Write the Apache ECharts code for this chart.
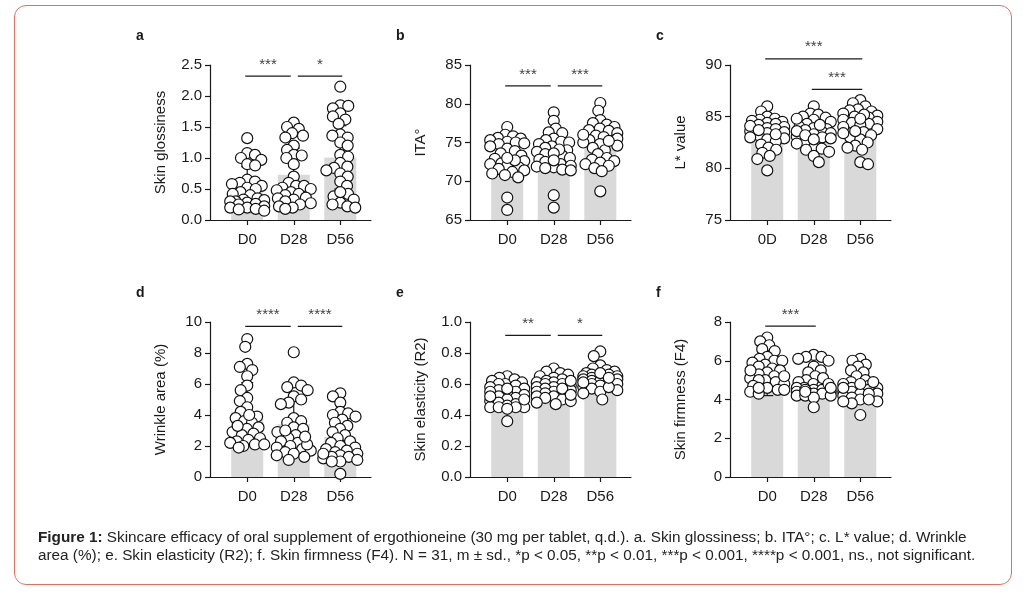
<!DOCTYPE html>
<html lang="en">
<head>
    <meta charset="UTF-8">
    <title>Figure 1</title>
    <style>
        body{ margin:0; background:#fff; }
        .wrap{ position:relative; width:1026px; height:595px; }
        .container{ width:1026px; height:595px; }
        .frame{
            position:absolute; left:14px; top:5px; width:996px; height:578px;
            border:1.5px solid #e2705f; border-radius:12px; pointer-events:none;
        }
    </style>
    <script src="https://cdn.jsdelivr.net/npm/echarts@6/dist/echarts.min.js"></script>
</head>
<body>
    <div class="wrap">
        <div class="container"></div>
        <div class="frame"></div>
    </div>
    <script>
        // categories
        var categories = ['D0', 'D28', 'D56'];
        var categoriesC = ['0D', 'D28', 'D56'];

        // a. skin glossiness
        var glossD0 = [1.32,1.08,1.05,1.0,0.97,0.9,0.88,0.65,0.62,0.6,0.58,0.55,0.52,0.5,0.45,0.42,0.4,0.35,0.33,0.32,0.3,0.3,0.28,0.26,0.25,0.22,0.2,0.2,0.18,0.17,0.15];
        var glossD28 = [1.57,1.5,1.47,1.4,1.36,1.33,1.2,1.13,1.05,1.04,1.0,0.9,0.7,0.6,0.55,0.55,0.52,0.5,0.48,0.45,0.42,0.4,0.36,0.35,0.33,0.3,0.27,0.25,0.22,0.2,0.18];
        var glossD56 = [2.15,1.85,1.84,1.8,1.72,1.67,1.62,1.55,1.38,1.36,1.33,1.25,1.2,1.05,1.02,0.92,0.86,0.84,0.8,0.75,0.7,0.62,0.55,0.42,0.38,0.33,0.28,0.25,0.22,0.2,0.45];
        var glossMean = [0.54, 0.73, 1.01];
        var glossSd = [0.32, 0.43, 0.51];
        var glossSig = [[0, 1, 2.32, '***'], [1, 2, 2.32, '*']];

        // b. ITA°
        var itaD0 = [77.0,76.0,75.8,75.6,75.5,75.3,75.1,75.0,74.9,74.8,74.5,74.2,73.9,73.6,73.3,72.9,72.6,72.3,72.2,72.0,71.8,71.6,71.4,71.2,71.0,70.8,70.5,72.7,73.0,67.9,66.3];
        var itaD28 = [78.9,77.8,76.8,76.3,76.2,75.5,75.3,75.1,75.0,74.8,74.5,74.3,74.0,73.8,73.5,73.3,73.0,72.8,72.5,72.2,72.0,71.9,71.8,71.7,71.5,71.4,68.2,66.6,74.1,73.6,72.7];
        var itaD56 = [80.1,79.1,77.9,77.5,77.3,77.0,76.8,76.6,76.5,76.2,75.9,75.7,75.5,75.3,75.0,74.8,74.6,74.3,74.0,73.5,73.0,72.8,72.6,72.4,72.2,72.0,71.7,71.3,68.7,76.0,75.2];
        var itaMean = [73.2, 73.8, 75.0];
        var itaSd = [2.4, 2.5, 2.3];
        var itaSig = [[0, 1, 82.3, '***'], [1, 2, 82.3, '***']];

        // c. L* value
        var lvalD0 = [86.0,85.5,85.0,84.8,84.7,84.6,84.5,84.4,84.3,84.2,84.0,83.9,83.8,83.6,83.5,83.4,83.2,83.0,82.9,82.8,82.6,82.3,82.0,81.8,81.5,81.2,80.9,79.8,84.1,83.7,83.3];
        var lvalD28 = [86.0,85.3,85.2,85.0,84.9,84.7,84.5,84.3,84.0,83.9,83.8,83.7,83.5,83.4,83.3,83.1,83.0,82.9,82.6,82.4,82.0,81.9,81.8,81.6,81.2,80.6,84.8,84.2,83.6,83.2,82.8];
        var lvalD56 = [86.6,86.3,86.0,85.7,85.6,85.5,85.3,85.1,85.0,84.9,84.7,84.5,84.4,84.3,84.2,84.0,83.8,83.5,83.2,83.0,82.8,82.5,82.2,82.0,81.8,80.6,80.4,85.2,84.8,83.6,83.4];
        var lvalMean = [83.6, 83.2, 84.2];
        var lvalSd = [1.3, 1.1, 1.5];
        var lvalSig = [[0, 2, 90.6, '***'], [1, 2, 87.65, '***']];

        // d. wrinkle area
        var wrinkleD0 = [8.9,8.4,7.3,7.1,6.9,6.5,5.9,5.6,5.1,4.9,4.5,4.2,3.9,3.8,3.6,3.5,3.2,3.1,2.9,2.8,2.7,2.5,2.4,2.3,2.2,2.1,2.1,2.0,1.9,4.0,3.3];
        var wrinkleD28 = [8.05,6.1,5.9,5.8,5.6,5.2,5.0,4.8,4.7,3.8,3.6,3.5,3.2,3.1,2.9,2.7,2.5,2.3,2.2,2.0,1.9,1.8,1.7,1.6,1.5,1.4,1.3,1.1,3.0,2.1,2.6];
        var wrinkleD56 = [5.4,5.2,4.8,4.2,4.1,4.0,3.9,3.7,3.5,3.3,3.1,2.9,2.7,2.5,2.3,2.2,2.0,1.9,1.8,1.7,1.6,1.5,1.4,1.3,1.3,1.2,1.1,1.0,1.0,0.2,1.5];
        var wrinkleMean = [4.19, 3.4, 2.58];
        var wrinkleSd = [1.9, 1.6, 1.2];
        var wrinkleSig = [[0, 1, 9.72, '****'], [1, 2, 9.72, '****']];

        // e. skin elasticity
        var elastD0 = [0.65,0.64,0.63,0.62,0.61,0.60,0.60,0.59,0.58,0.57,0.56,0.55,0.55,0.54,0.53,0.52,0.51,0.50,0.49,0.48,0.47,0.46,0.45,0.45,0.45,0.45,0.44,0.52,0.57,0.36,0.50];
        var elastD28 = [0.70,0.68,0.67,0.66,0.65,0.64,0.63,0.62,0.61,0.61,0.60,0.60,0.59,0.58,0.58,0.57,0.56,0.55,0.55,0.54,0.53,0.52,0.52,0.51,0.50,0.49,0.48,0.47,0.62,0.57,0.53];
        var elastD56 = [0.81,0.78,0.72,0.70,0.69,0.68,0.67,0.66,0.66,0.65,0.65,0.64,0.64,0.63,0.63,0.62,0.62,0.61,0.60,0.60,0.59,0.58,0.57,0.56,0.55,0.54,0.50,0.67,0.61,0.58,0.64];
        var elastMean = [0.54, 0.58, 0.63];
        var elastSd = [0.07, 0.06, 0.07];
        var elastSig = [[0, 1, 0.914, '**'], [1, 2, 0.914, '*']];

        // f. skin firmness
        var firmD0 = [7.2,7.0,6.8,6.6,6.5,6.2,6.1,6.0,6.0,5.9,5.8,5.7,5.6,5.5,5.4,5.3,5.2,5.1,5.0,5.0,4.9,4.8,4.7,4.6,4.5,4.5,4.4,4.3,5.5,5.2,4.6];
        var firmD28 = [6.3,6.2,6.2,6.1,6.0,5.7,5.5,5.4,5.2,5.0,4.9,4.8,4.7,4.6,4.6,4.5,4.5,4.4,4.4,4.3,4.3,4.2,4.2,4.1,3.6,5.1,4.8,4.5,4.4,4.2,4.6];
        var firmD56 = [6.1,6.0,5.8,5.7,5.5,5.4,5.2,5.0,4.9,4.8,4.7,4.6,4.6,4.5,4.5,4.4,4.4,4.3,4.3,4.2,4.1,4.0,3.9,3.8,3.2,4.6,4.8,4.3,4.0,3.9,4.9];
        var firmMean = [5.0, 5.0, 4.56];
        var firmSd = [0.8, 0.7, 0.7];
        var firmSig = [[0, 1, 7.79, '***']];

        var panels = [
            {letter:'a', name:'Skin glossiness', cats:categories, groups:[glossD0, glossD28, glossD56], mean:glossMean, sd:glossSd, sig:glossSig, min:0, max:2.5, interval:0.5, dec:1},
            {letter:'b', name:'ITA°', cats:categories, groups:[itaD0, itaD28, itaD56], mean:itaMean, sd:itaSd, sig:itaSig, min:65, max:85, interval:5, dec:0},
            {letter:'c', name:'L* value', cats:categoriesC, groups:[lvalD0, lvalD28, lvalD56], mean:lvalMean, sd:lvalSd, sig:lvalSig, min:75, max:90, interval:5, dec:0},
            {letter:'d', name:'Wrinkle area (%)', cats:categories, groups:[wrinkleD0, wrinkleD28, wrinkleD56], mean:wrinkleMean, sd:wrinkleSd, sig:wrinkleSig, min:0, max:10, interval:2, dec:0},
            {letter:'e', name:'Skin elasticity (R2)', cats:categories, groups:[elastD0, elastD28, elastD56], mean:elastMean, sd:elastSd, sig:elastSig, min:0, max:1, interval:0.2, dec:1},
            {letter:'f', name:'Skin firmness (F4)', cats:categories, groups:[firmD0, firmD28, firmD56], mean:firmMean, sd:firmSd, sig:firmSig, min:0, max:8, interval:2, dec:0}
        ];

        var FONT = '"Liberation Sans", Arial, sans-serif';
        var INK = '#1a1a1a';
        var GRID_W = 161, GRID_H = 155;
        var X_MIN = -0.8, X_MAX = 2.66;
        var X_UNIT = GRID_W / (X_MAX - X_MIN);
        var DOT = 11;       // drawn size
        var GAP = 8;        // centre distance allowed in the swarm (dots overlap a little, like prism)
        var HALF_W = 17;    // max sideways spread

        // beeswarm: put each dot as close to the centre as it can go
        function swarm(values, ymin, ymax) {
            var k = GRID_H / (ymax - ymin);
            var order = values.map(function (v, i) { return i; })
                .sort(function (p, q) { return values[q] - values[p]; });
            var placed = [];
            var offs = new Array(values.length);
            var side = 1;
            order.forEach(function (i) {
                var y = values[i] * k;
                var cands = [0];
                placed.forEach(function (q) {
                    var dy = Math.abs(y - q.y);
                    if (dy < GAP) {
                        var dx = Math.sqrt(GAP * GAP - dy * dy);
                        cands.push(q.x + dx, q.x - dx);
                    }
                });
                cands = cands.filter(function (c) { return Math.abs(c) <= HALF_W; });
                cands.sort(function (p, q) {
                    var d = Math.abs(p) - Math.abs(q);
                    if (Math.abs(d) > 0.01) return d;
                    return side * (q - p);
                });
                var x = null;
                for (var c = 0; c < cands.length; c++) {
                    var ok = placed.every(function (q) {
                        var ddx = cands[c] - q.x, ddy = y - q.y;
                        return ddx * ddx + ddy * ddy >= GAP * GAP - 0.01;
                    });
                    if (ok) { x = cands[c]; break; }
                }
                if (x === null) {
                    // no free slot inside the spread: take the least crowded edge spot
                    var best = 0, bestD = -1;
                    [-HALF_W, -HALF_W / 2, 0, HALF_W / 2, HALF_W].forEach(function (c) {
                        var dmin = Infinity;
                        placed.forEach(function (q) {
                            var dd = Math.hypot(c - q.x, y - q.y);
                            if (dd < dmin) dmin = dd;
                        });
                        if (dmin > bestD) { bestD = dmin; best = c; }
                    });
                    x = best;
                }
                side = -side;
                placed.push({x: x, y: y});
                offs[i] = x;
            });
            return offs;
        }

        var grids = [], xAxes = [], yAxes = [], series = [], titles = [];

        panels.forEach(function (p, i) {
            var left = 210 + 260 * (i % 3);
            var top = i < 3 ? 65 : 322;
            grids.push({left: left, top: top, width: GRID_W, height: GRID_H});

            titles.push({
                text: p.letter, left: left - 74, top: top - 36, padding: 0,
                textStyle: {fontFamily: FONT, fontSize: 14, fontWeight: 'bold', color: INK}
            });

            xAxes.push({
                gridIndex: i, type: 'value', min: X_MIN, max: X_MAX,
                axisLine: {show: true, onZero: false, lineStyle: {color: INK, width: 1.2}},
                axisTick: {show: true, customValues: [0, 1, 2], length: 5, lineStyle: {color: INK, width: 1.2}},
                axisLabel: {
                    customValues: [0, 1, 2], margin: 12, fontFamily: FONT, fontSize: 15, color: INK,
                    formatter: function (v) { return p.cats[Math.round(v)]; }
                },
                splitLine: {show: false}
            });

            yAxes.push({
                gridIndex: i, type: 'value', min: p.min, max: p.max, interval: p.interval,
                name: p.name, nameLocation: 'middle', nameGap: 42,
                nameTextStyle: {fontFamily: FONT, fontSize: 15, color: INK},
                axisLine: {show: true, onZero: false, lineStyle: {color: INK, width: 1.2}},
                axisTick: {show: true, length: 5, lineStyle: {color: INK, width: 1.2}},
                axisLabel: {
                    margin: 8, fontFamily: FONT, fontSize: 15, color: INK,
                    formatter: function (v) { return v.toFixed(p.dec); }
                },
                splitLine: {show: false}
            });

            // bars (mean)
            series.push({
                type: 'custom', xAxisIndex: i, yAxisIndex: i, z: 1, silent: true,
                data: p.mean.map(function (m, j) { return [j, m]; }),
                renderItem: function (params, api) {
                    var topPt = api.coord([api.value(0), api.value(1)]);
                    var base = api.coord([api.value(0), p.min]);
                    return {
                        type: 'rect',
                        shape: {x: topPt[0] - 16, y: topPt[1], width: 32, height: base[1] - topPt[1]},
                        style: {fill: '#d9d9d9'}
                    };
                }
            });

            // error bars (mean ± sd)
            series.push({
                type: 'custom', xAxisIndex: i, yAxisIndex: i, z: 2, silent: true,
                data: p.mean.map(function (m, j) { return [j, m, p.sd[j]]; }),
                renderItem: function (params, api) {
                    var x = api.value(0), m = api.value(1), s = api.value(2);
                    var hi = api.coord([x, m + s]);
                    var lo = api.coord([x, Math.max(m - s, p.min)]);
                    var st = {stroke: INK, lineWidth: 1.2};
                    return {
                        type: 'group',
                        children: [
                            {type: 'line', shape: {x1: hi[0], y1: hi[1], x2: lo[0], y2: lo[1]}, style: st},
                            {type: 'line', shape: {x1: hi[0] - 6, y1: hi[1], x2: hi[0] + 6, y2: hi[1]}, style: st},
                            {type: 'line', shape: {x1: lo[0] - 6, y1: lo[1], x2: lo[0] + 6, y2: lo[1]}, style: st}
                        ]
                    };
                }
            });

            // individual points
            var pts = [];
            p.groups.forEach(function (vals, j) {
                var offs = swarm(vals, p.min, p.max);
                vals.forEach(function (v, n) {
                    pts.push([j + offs[n] / X_UNIT, v]);
                });
            });
            series.push({
                type: 'scatter', xAxisIndex: i, yAxisIndex: i, z: 3, silent: true,
                symbol: 'circle', symbolSize: DOT,
                itemStyle: {color: '#fff', borderColor: '#111', borderWidth: 1.2, opacity: 1},
                data: pts
            });

            // significance brackets
            series.push({
                type: 'custom', xAxisIndex: i, yAxisIndex: i, z: 4, silent: true, clip: false,
                data: p.sig.map(function (s) { return [s[0], s[1], s[2]]; }),
                renderItem: function (params, api) {
                    var s = p.sig[params.dataIndex];
                    var a = api.coord([s[0], s[2]]);
                    var b = api.coord([s[1], s[2]]);
                    var joinedLeft = p.sig.some(function (o) { return o !== s && o[1] === s[0] && o[2] === s[2]; });
                    var joinedRight = p.sig.some(function (o) { return o !== s && o[0] === s[1] && o[2] === s[2]; });
                    var x1 = a[0] + (joinedLeft ? 4 : -2);
                    var x2 = b[0] + (joinedRight ? -3 : 2);
                    return {
                        type: 'group',
                        children: [
                            {type: 'line', shape: {x1: x1, y1: a[1], x2: x2, y2: a[1]}, style: {stroke: INK, lineWidth: 1.2}},
                            {type: 'text', x: (x1 + x2) / 2, y: a[1] - 4,
                                style: {text: s[3], fill: '#444', font: '15px ' + FONT, align: 'center', verticalAlign: 'bottom'}}
                        ]
                    };
                }
            });
        });

        titles.push({
            left: 38, top: 529, padding: 0,
            text: '{b|Figure 1:} Skincare efficacy of oral supplement of ergothioneine (30 mg per tablet, q.d.). a. Skin glossiness; b. ITA°; c. L* value; d. Wrinkle\n' +
                  'area (%); e. Skin elasticity (R2); f. Skin firmness (F4). N = 31, m ± sd., *p < 0.05, **p < 0.01, ***p < 0.001, ****p < 0.001, ns., not significant.',
            textStyle: {
                fontFamily: FONT, fontSize: 15.3, fontWeight: 'normal', color: '#222', lineHeight: 18,
                rich: {b: {fontFamily: FONT, fontSize: 15.3, fontWeight: 'bold', color: '#222', lineHeight: 18}}
            }
        });

        var main = document.getElementsByClassName('container')[0];
        var myChart = echarts.init(main);
        myChart.setOption({
            backgroundColor: '#fff',
            animation: false,
            title: titles,
            grid: grids,
            xAxis: xAxes,
            yAxis: yAxes,
            series: series
        });
    </script>
</body>
</html>
